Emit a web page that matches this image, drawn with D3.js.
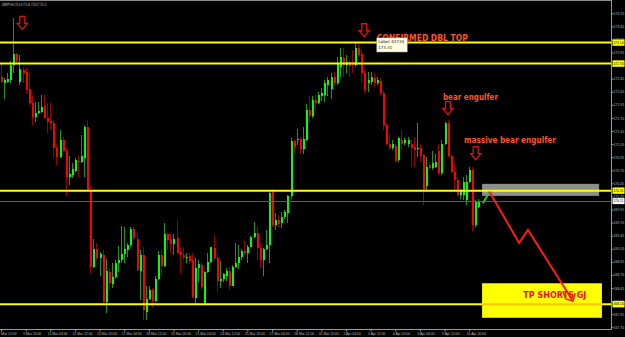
<!DOCTYPE html>
<html><head><meta charset="utf-8">
<script src="https://cdn.jsdelivr.net/npm/d3@7"></script>
<style>html,body{margin:0;padding:0;background:#000;overflow:hidden}</style>
</head><body><svg id="c" width="625" height="337"></svg>
<script>
// ---- data (GBPJPY H4) ----
const open=[172.49,172.37,172.39,172.42,172.71,172.93,172.39,172.62,172.58,172.25,
171.98,171.72,171.79,171.82,171.93,171.70,171.65,171.61,171.12,170.96,
171.28,171.06,170.58,170.61,170.69,170.88,170.85,170.94,171.53,170.32,
168.86,169.20,169.03,169.08,168.19,168.76,168.52,168.65,168.92,168.98,
169.10,169.18,169.27,169.58,169.38,168.78,169.08,168.00,168.23,168.42,
168.21,168.63,169.08,168.87,169.48,169.38,169.29,169.40,169.14,169.08,
169.02,169.06,168.98,168.25,168.84,168.89,168.14,168.76,168.94,169.21,
169.02,168.59,168.62,168.68,168.78,168.49,168.86,168.92,169.04,169.16,
169.11,169.24,169.42,169.51,169.21,168.98,169.20,169.27,170.29,169.65,
169.74,169.70,169.80,169.89,170.20,171.26,171.27,171.29,171.10,171.28,
171.85,171.74,172.04,171.99,172.11,172.14,172.33,172.25,172.49,172.36,
172.68,172.84,172.71,172.76,172.76,172.71,173.03,172.93,172.55,172.37,
172.39,172.46,172.37,172.41,172.18,171.56,171.21,171.12,171.16,170.90,
171.28,171.23,171.21,171.21,171.15,171.10,171.12,170.99,170.39,170.80,
170.74,170.77,171.06,170.64,171.21,171.60,170.97,170.67,170.51,170.23,
170.23,170.13,170.48,170.71,169.65,170.00];
const high=[172.74,172.46,172.55,172.78,173.61,172.95,172.90,172.68,172.65,172.55,
172.11,172.01,172.01,172.14,172.14,171.99,171.99,171.66,171.21,171.47,
171.34,171.12,170.97,170.83,170.93,170.97,171.37,171.56,171.65,170.39,
169.39,169.30,169.14,169.18,169.00,168.81,168.92,168.98,169.25,169.63,
169.62,169.30,169.62,169.62,169.51,169.18,169.24,168.48,168.48,168.44,
168.67,169.16,169.18,169.70,169.51,169.49,169.49,169.75,169.21,169.24,
169.12,169.12,169.12,169.02,168.98,168.92,168.78,169.11,169.24,169.46,
169.12,168.97,168.74,168.83,168.86,168.89,169.30,169.27,169.19,169.35,
169.27,169.44,169.72,169.63,169.30,169.21,169.56,170.29,170.35,169.89,
169.85,169.91,169.94,170.23,171.31,171.29,171.48,171.33,171.52,171.97,
172.11,172.11,172.14,172.20,172.27,172.42,172.49,172.55,172.58,172.87,
173.03,173.03,172.90,172.81,173.00,173.13,173.16,173.00,172.62,172.58,
172.58,172.55,172.49,172.46,172.23,171.60,171.41,171.28,171.21,171.34,
171.47,171.31,171.34,171.28,171.34,171.60,171.21,171.02,170.96,170.86,
171.06,171.02,171.21,171.28,171.63,171.66,171.02,170.83,170.58,170.35,
170.58,170.61,170.77,170.77,170.13,170.16];
const low=[172.36,172.07,172.36,172.36,172.55,172.74,172.33,172.36,172.17,171.95,
171.56,171.63,171.77,171.79,171.69,171.41,171.47,170.96,170.80,170.93,
171.04,170.20,170.42,170.55,170.67,170.58,170.83,170.58,170.32,168.74,
168.83,168.98,168.67,168.17,167.97,168.42,168.44,168.63,168.76,168.92,
168.92,169.05,169.24,169.37,168.78,168.22,167.84,167.84,168.22,168.09,
168.19,168.60,168.67,168.86,169.18,169.12,169.08,169.11,168.74,168.98,
168.92,168.92,168.25,168.14,168.57,168.42,168.13,168.73,168.92,168.98,
168.38,168.44,168.57,168.59,168.41,168.48,168.84,168.81,168.98,169.08,
168.93,169.23,169.40,168.98,168.83,168.67,169.18,168.92,169.62,169.56,
169.62,169.59,169.76,169.69,170.16,171.02,171.18,171.01,171.02,171.25,
171.60,171.69,171.85,171.97,172.03,172.01,172.11,172.07,172.31,172.33,
172.49,172.49,172.55,172.49,172.55,172.68,172.87,172.36,172.17,172.20,
172.33,172.30,172.33,172.14,171.47,171.18,171.09,171.09,170.86,170.86,
171.09,171.18,171.15,170.77,170.77,170.96,170.86,170.04,170.32,170.71,
170.71,170.74,170.61,170.61,171.18,170.96,170.64,170.32,170.20,170.16,
170.13,170.04,170.45,169.53,169.62,169.97];
const close=[172.39,172.42,172.44,172.71,172.93,172.78,172.63,172.55,172.23,171.98,
171.72,171.79,171.83,171.91,171.70,171.63,171.61,171.12,170.96,171.28,
171.06,170.58,170.63,170.72,170.90,170.85,170.97,171.53,170.32,168.86,
169.20,169.03,169.10,168.19,168.78,168.54,168.65,168.92,168.98,169.10,
169.19,169.27,169.58,169.40,168.79,169.08,168.02,168.23,168.41,168.21,
168.63,169.08,168.87,169.48,169.37,169.29,169.38,169.12,169.08,169.04,
169.05,168.97,168.28,168.83,168.90,168.46,168.76,168.94,169.23,169.02,
168.59,168.62,168.71,168.78,168.49,168.86,168.92,169.05,169.16,169.11,
169.24,169.43,169.51,169.21,168.98,169.20,169.27,170.27,169.65,169.74,
169.67,169.80,169.91,170.21,171.26,171.14,171.29,171.10,171.29,171.85,
171.74,172.04,171.99,172.14,172.18,172.36,172.42,172.49,172.36,172.74,
172.87,172.71,172.76,172.69,172.72,173.03,172.90,172.55,172.23,172.42,
172.49,172.36,172.42,172.17,171.56,171.21,171.12,171.21,170.88,171.31,
171.21,171.28,171.27,171.12,171.09,171.12,170.97,170.32,170.77,170.74,
170.83,170.85,170.64,171.21,171.60,170.97,170.67,170.51,170.23,170.32,
170.48,170.48,170.71,169.65,170.10,170.11];
const timeLabels=["7 Mar 12:00","9 Mar 20:00","11 Mar 04:00","12 Mar 12:00","13 Mar 20:00",
"17 Mar 04:00","18 Mar 12:00","19 Mar 20:00","21 Mar 04:00","24 Mar 12:00","25 Mar 20:00",
"27 Mar 04:00","28 Mar 12:00","31 Mar 20:00","2 Apr 04:00","3 Apr 12:00","4 Apr 20:00",
"6 Apr 04:00","9 Apr 12:00","10 Apr 20:00"];
const priceTicks=[173.70,173.45,173.20,172.95,172.70,172.45,172.20,171.95,171.70,171.45,
171.20,170.95,170.70,170.45,170.20,169.95,169.70,169.45,169.20,168.95,168.70,168.45,168.20,167.95,167.70];
const levels=[173.14,172.74,170.31,168.14];
const bid=170.11;
const header="GBPJPY,H4  170.14 170.16 170.07 170.11";

// ---- layout ----
const W=625,H=337,plotR=611,plotB=329;
const svg=d3.select('#c');
const x=d3.scaleLinear().domain([0,100]).range([1,309]);
const y=d3.scaleLinear().domain([167.70,173.70]).range([327.2,13.3]);
const n=open.length;
const FONT="'DejaVu Sans',sans-serif";
const AXF="'Liberation Sans',Arial,sans-serif";
const fmt=d3.format('.2f');

svg.append('rect').attr('width',W).attr('height',H).attr('fill','#000');
svg.append('clipPath').attr('id','pc').append('rect').attr('x',0).attr('y',1).attr('width',plotR).attr('height',plotB-1);
const plot=svg.append('g').attr('clip-path','url(#pc)');

// candles
const cand=plot.append('g').attr('shape-rendering','crispEdges');
d3.range(n).forEach(i=>{
  const xi=Math.round(x(i));
  const up=close[i]>=open[i];
  cand.append('line').attr('x1',xi+0.5).attr('x2',xi+0.5)
    .attr('y1',y(high[i])).attr('y2',y(low[i]))
    .attr('stroke',up?'#1a9a1a':'#990000').attr('stroke-width',1);
  const t=y(Math.max(open[i],close[i])), b=y(Math.min(open[i],close[i]));
  cand.append('rect').attr('x',xi-0.5).attr('width',2)
    .attr('y',t).attr('height',Math.max(1,b-t))
    .attr('fill',up?'#00ff00':'#ff0000');
});

// grey zone
const greyBox={i0:156.2,i1:194.2,p0:170.44,p1:170.21};
plot.append('rect').attr('x',x(greyBox.i0)).attr('y',y(greyBox.p0))
  .attr('width',x(greyBox.i1)-x(greyBox.i0)).attr('height',y(greyBox.p1)-y(greyBox.p0))
  .attr('fill','#8e8e8e');
// yellow TP box
const tpBox={i0:156.2,i1:195.1,p0:168.54,p1:167.88};
plot.append('rect').attr('x',x(tpBox.i0)).attr('y',y(tpBox.p0))
  .attr('width',x(tpBox.i1)-x(tpBox.i0)).attr('height',y(tpBox.p1)-y(tpBox.p0))
  .attr('fill','#ffff00');

// bid line
plot.append('line').attr('x1',0).attr('x2',plotR).attr('y1',y(bid)).attr('y2',y(bid))
  .attr('stroke','#5a5a5a').attr('stroke-width',1).attr('shape-rendering','crispEdges');
// level lines
levels.forEach(l=>{
  plot.append('line').attr('x1',0).attr('x2',plotR).attr('y1',y(l)).attr('y2',y(l))
    .attr('stroke','#ffff00').attr('stroke-width',2);
});
plot.append('line').attr('x1',x(tpBox.i0)).attr('x2',x(tpBox.i1)).attr('y1',y(levels[3])).attr('y2',y(levels[3]))
  .attr('stroke','#ffc000').attr('stroke-width',2);

// projection lines
const line=d3.line().x(d=>x(d[0])).y(d=>y(d[1]));
const projGreen=[[156.5,170.07],[158.6,170.29]];
const projRed=[[158.6,170.29],[168.2,169.31],[171.1,169.56],[185.7,168.20]];
const projHead=[[182.5,168.37],[183.4,168.24],[185.7,168.20],[186.4,168.35]];
plot.append('path').attr('d',line(projGreen)).attr('fill','none').attr('stroke','#2dbb4a').attr('stroke-width',2);
plot.append('path').attr('d',line(projRed)).attr('fill','none').attr('stroke','#ff1a1a').attr('stroke-width',2);
plot.append('path').attr('d',line(projHead)).attr('fill','none').attr('stroke','#ff1a1a').attr('stroke-width',1.6);

// arrows
const arrows=[[5.29,173.64],[116.3,173.50],[143.5,172.01],[152.5,171.15]];
arrows.forEach(([i,p])=>{
  const ax=x(i), ay=y(p);
  const pts=[[2.5,0],[7.5,0],[7.5,7],[10,7],[5,13],[0,7],[2.5,7]].map(d=>[ax+d[0],ay+d[1]]);
  plot.append('path').attr('d','M'+pts.join('L')+'Z').attr('fill','none')
    .attr('stroke','#e01010').attr('stroke-width',1.3);
});

// annotation texts
const notes=[
  {t:"CONFIRMED DBL TOP",i:122.0,p:173.18,w:91,s:9.5,c:'#ff5522'},
  {t:"bear engulfer",i:143.5,p:172.04,w:55,s:8.5,c:'#ff5522'},
  {t:"massive bear engulfer",i:150.3,p:171.23,w:92,s:8.5,c:'#ff5522'},
  {t:"TP SHORTS GJ",i:169.6,p:168.25,w:63,s:9.5,c:'#ee1111'}
];
notes.forEach(a=>{
  plot.append('text').attr('x',x(a.i)).attr('y',y(a.p)).text(a.t)
    .attr('font-family',FONT).attr('font-weight','bold').attr('font-size',a.s)
    .attr('fill',a.c).attr('textLength',a.w).attr('lengthAdjust','spacingAndGlyphs');
});

// tooltip
const tip={i0:122.0,i1:131.9,p0:173.23,p1:172.96};
const tg=plot.append('g');
tg.append('rect').attr('x',x(tip.i0)).attr('y',y(tip.p0)).attr('width',x(tip.i1)-x(tip.i0)).attr('height',y(tip.p1)-y(tip.p0))
  .attr('fill','#ffffe6').attr('stroke','#999').attr('stroke-width',0.5);
tg.append('text').attr('x',x(tip.i0)+1.5).attr('y',y(tip.p0)+5.2).text('Label 43734')
  .attr('font-family',FONT).attr('font-size',4.2).attr('fill','#222')
  .attr('textLength',26).attr('lengthAdjust','spacingAndGlyphs');
tg.append('text').attr('x',x(tip.i0)+1.5).attr('y',y(tip.p0)+11.5).text('173.31')
  .attr('font-family',FONT).attr('font-size',4.2).attr('fill','#222')
  .attr('textLength',14).attr('lengthAdjust','spacingAndGlyphs');

// header
svg.append('text').attr('x',2).attr('y',5.5).text(header)
  .attr('font-family',FONT).attr('font-size',4.4).attr('fill','#c8c8c8')
  .attr('textLength',45).attr('lengthAdjust','spacingAndGlyphs');

// top border
svg.append('line').attr('x1',0).attr('x2',plotR).attr('y1',0.5).attr('y2',0.5)
  .attr('stroke','#8a8a8a').attr('stroke-width',1);

// right price axis
const ya=svg.append('g').attr('transform',`translate(${plotR+0.5},0)`)
  .call(d3.axisRight(y).tickValues(priceTicks).tickFormat(fmt).tickSize(2).tickSizeOuter(0));
ya.select('.domain').remove();
ya.selectAll('line').attr('stroke','#9a9a9a');
ya.selectAll('text').attr('font-family',AXF).attr('font-size',3.4).attr('fill','#bdbdbd').attr('x',2.2);
svg.append('line').attr('x1',plotR+0.5).attr('x2',plotR+0.5).attr('y1',0).attr('y2',plotB+0.5)
  .attr('stroke','#9a9a9a').attr('stroke-width',1);

// bottom time axis
const idx=timeLabels.map((d,k)=>k*8);
const xa=svg.append('g').attr('transform',`translate(0,${plotB+0.5})`)
  .call(d3.axisBottom(x).tickValues(idx).tickFormat((d,k)=>timeLabels[k]).tickSize(2).tickSizeOuter(0));
xa.select('.domain').remove();
xa.selectAll('line').attr('stroke','#9a9a9a');
xa.selectAll('text').attr('font-family',AXF).attr('font-size',3.4).attr('fill','#bdbdbd')
  .attr('text-anchor','start').attr('dx',-3).attr('y',2.8);
svg.append('line').attr('x1',0).attr('x2',plotR+0.5).attr('y1',plotB+0.5).attr('y2',plotB+0.5)
  .attr('stroke','#9a9a9a').attr('stroke-width',1);

// level price labels
levels.forEach(l=>{
  svg.append('rect').attr('x',plotR+1.5).attr('y',y(l)-3.2).attr('width',12).attr('height',6.4).attr('fill','#ffff00');
  svg.append('text').attr('x',plotR+2.2).attr('y',y(l)+1.2).text(fmt(l))
    .attr('font-family',AXF).attr('font-size',3.4).attr('fill','#000');
});
svg.append('rect').attr('x',plotR+1.5).attr('y',y(bid)-3).attr('width',12).attr('height',6).attr('fill','#ffffff');
svg.append('text').attr('x',plotR+2.2).attr('y',y(bid)+1.2).text(fmt(bid))
  .attr('font-family',AXF).attr('font-size',3.4).attr('fill','#000');
</script></body></html>
